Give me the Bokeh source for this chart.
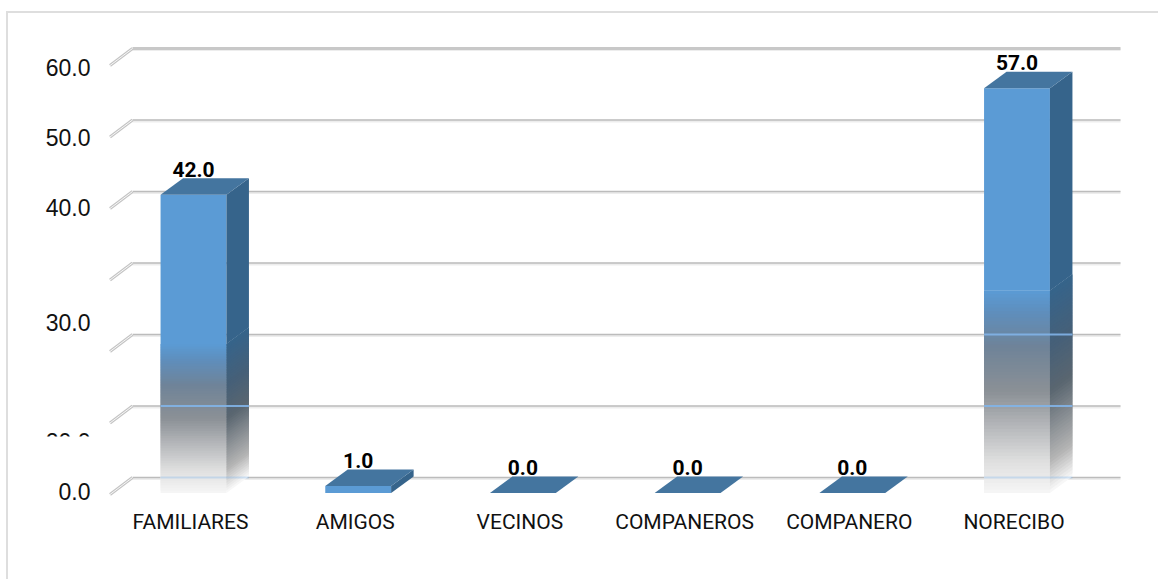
from bokeh.plotting import figure
from bokeh.models import Range1d, FixedTicker, LinearAxis
from bokeh.core.properties import value
from bokeh.embed import file_html
from bokeh.resources import INLINE

categories = ["FAMILIARES", "AMIGOS", "VECINOS", "COMPANEROS", "COMPANERO", "NORECIBO"]
percent = [42.0, 1.0, 0.0, 0.0, 0.0, 57.0]
grid_values = [0, 10, 20, 30, 40, 50, 60]
tick_labels = ["60.0", "50.0", "40.0", "30.0", "20.0", "0.0"]
tick_label_levels = [57.4, 47.6, 37.7, 21.7, 5.0, -2.0]

# pixel calibration of the scales
PX_X0, PX_DX = 193.0, 164.7
PX_L, PX_R, PX_T, PX_B = 8.0, 1160.0, 13.0, 505.0
LABEL_SHIFT = 3.0
GRID_PX0, GRID_K = 477.0, 7.15
BAR_PX0, BAR_K = 492.5, 7.1
BAR_W = 0.4
DEPTH_X = 22.5 / PX_DX
DEPTH_Y = 16.5 / BAR_K
ARM_Y = 17.0 / GRID_K
GRID_X0, GRID_X1 = (132 - PX_X0) / PX_DX, (1120 - PX_X0) / PX_DX

p = figure(
    width=1152, height=568, output_backend="svg", toolbar_location=None,
    x_range=Range1d((PX_L - PX_X0) / PX_DX, (PX_R - PX_X0) / PX_DX),
    y_range=Range1d((GRID_PX0 - PX_B) / GRID_K, (GRID_PX0 - PX_T) / GRID_K),
    x_axis_location=None, y_axis_location=None,
    min_border_left=0, min_border_right=0, min_border_top=0, min_border_bottom=76,
    outline_line_color=None, background_fill_color="white",
)
p.extra_y_ranges = {"bars": Range1d((BAR_PX0 - PX_B) / BAR_K, (BAR_PX0 - PX_T) / BAR_K)}
p.extra_x_ranges = {"labels": Range1d((PX_L - PX_X0 + LABEL_SHIFT) / PX_DX, (PX_R - PX_X0 + LABEL_SHIFT) / PX_DX)}
p.grid.visible = False
p.styles = {"margin-left": "6px", "margin-top": "11px",
            "border-left": "2px solid #dedede", "border-top": "2px solid #dedede"}

# x axis
ax = LinearAxis(ticker=FixedTicker(ticks=list(range(len(categories)))),
                major_label_overrides={i: c for i, c in enumerate(categories)},
                x_range_name="labels")
ax.axis_line_color = None
ax.major_tick_line_color = None
ax.minor_tick_line_color = None
ax.major_label_standoff = -2
ax.major_label_text_font = "Roboto"
ax.major_label_text_font_size = "21px"
ax.major_label_text_color = "#111111"
p.add_layout(ax, "below")

# gridlines with their wall arms
for v in grid_values:
    lw = 3 if v == 60 else 1.5
    col = "#c8c8c8" if v == 60 else "#bcbcbc"
    p.line([GRID_X0, GRID_X1], [v - 0.15, v - 0.15], line_color="#ededed", line_width=3)
    p.line([GRID_X0, GRID_X1], [v, v], line_color=col, line_width=lw)
    p.line([GRID_X0, GRID_X0 - DEPTH_X], [v, v - ARM_Y], line_color="#c4c4c4", line_width=3)
    p.line([GRID_X0, GRID_X0 - DEPTH_X], [v, v - ARM_Y], line_color="#f8f8f8", line_width=1)


def hex2rgb(h):
    return [int(h[i:i + 2], 16) for i in (1, 3, 5)]


def blend(stops, t):
    for (t0, c0), (t1, c1) in zip(stops, stops[1:]):
        if t <= t1:
            f = (t - t0) / (t1 - t0)
            a, b = hex2rgb(c0), hex2rgb(c1)
            return "#%02x%02x%02x" % tuple(round(x + (y - x) * f) for x, y in zip(a, b))
    return stops[-1][1]


FRONT = [(0, "#f6f6f6"), (.08, "#dedede"), (.25, "#8b9096"), (.36, "#6f8398"), (.45, "#5e8fbe"), (.5, "#5b9bd5")]
SIDE = [(0, "#fbfbfb"), (.08, "#b4b4b4"), (.25, "#5a6670"), (.36, "#466078"), (.5, "#36648b")]
TOP = "#44759f"
STEPS = 60

for i, val in enumerate(percent):
    xl, xr = i - BAR_W / 2, i + BAR_W / 2
    if val > 0:
        fade = val > 5
        mid = val * 0.5 if fade else 0
        if fade:
            # lower half: short overlapping bands painted upward, so no seams appear
            for k in range(STEPS):
                tb = 0.5 * k / STEPS
                tm = 0.5 * (k + 0.5) / STEPS
                yb = val * tb
                yt = min(mid, val * 0.5 * (k + 2) / STEPS)
                p.patch([xl, xr, xr, xl], [yb, yb, yt, yt], y_range_name="bars",
                        fill_color=blend(FRONT, tm), line_color=None)
                p.patch([xr, xr + DEPTH_X, xr + DEPTH_X, xr],
                        [yb, yb + DEPTH_Y, yt + DEPTH_Y, yt], y_range_name="bars",
                        fill_color=blend(SIDE, tm), line_color=None)
        # upper part in the plain colours
        p.patch([xl, xr, xr, xl], [mid, mid, val, val], y_range_name="bars",
                fill_color=FRONT[-1][1], line_color=None)
        p.patch([xr, xr + DEPTH_X, xr + DEPTH_X, xr], [mid, mid + DEPTH_Y, val + DEPTH_Y, val],
                y_range_name="bars", fill_color=SIDE[-1][1], line_color=None)
        # gridlines showing through the faded lower half of the bar
        for v in grid_values:
            px = GRID_PX0 - v * GRID_K
            if fade and px > BAR_PX0 - val * BAR_K * 0.5:
                al = 0.35 if v == 0 else 0.9
                p.line([xl, xr + DEPTH_X], [v, v], line_color="#82b4e8", line_width=2, line_alpha=al)
    p.patch([xl, xr, xr + DEPTH_X, xl + DEPTH_X],
            [val, val, val + DEPTH_Y, val + DEPTH_Y], y_range_name="bars",
            fill_color=TOP, line_color=None)

# value labels
p.text(list(range(len(percent))), [v + DEPTH_Y + 1.3 for v in percent],
       text=["%.1f" % v for v in percent], y_range_name="bars",
       text_font=value("Roboto"), text_font_style="bold",
       text_font_size="21px", text_align="center", text_baseline="alphabetic",
       text_color="#000000")

# y tick labels, at the places where the reference shows them
p.text([(90 - PX_X0) / PX_DX] * len(tick_labels), tick_label_levels, text=tick_labels,
       text_font=value("Liberation Sans"), text_font_size="23px",
       text_align="right", text_baseline="middle", text_color="#111111")
# white box cutting off the lower part of the 20.0 label
p.quad(left=[(40 - PX_X0) / PX_DX], right=[(100 - PX_X0) / PX_DX],
       top=[(GRID_PX0 - 436) / GRID_K], bottom=[(GRID_PX0 - 470) / GRID_K],
       fill_color="white", line_color=None)

open("out.html", "w").write(file_html(p, INLINE))
